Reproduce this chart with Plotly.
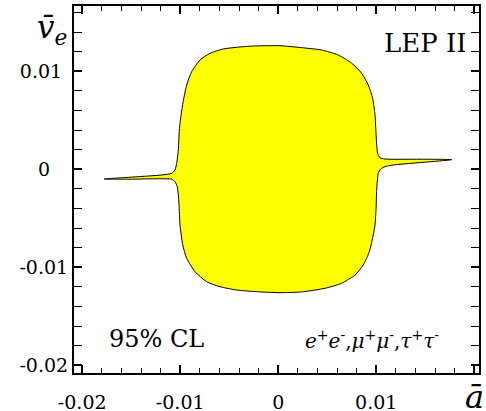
import plotly.graph_objects as go

# Contour outline (a-bar, v_e-bar), traced clockwise from the left spike tip
outline_a = [
    -0.01775, -0.01530, -0.01189, -0.01087, -0.01053, -0.01036, -0.01019,
    -0.01009, -0.00991, -0.00970, -0.00934, -0.00883, -0.00798, -0.00696,
    -0.00560, -0.00423, -0.00254, 0.00018, 0.00240, 0.00444, 0.00613,
    0.00750, 0.00852, 0.00919, 0.00964, 0.00988, 0.00998, 0.01005, 0.01015,
    0.01039, 0.01090, 0.01447, 0.01770,
    0.01174, 0.01090, 0.01046, 0.01021, 0.01011, 0.01005,
    0.00998, 0.00988, 0.00970, 0.00930, 0.00868, 0.00784, 0.00648, 0.00478,
    0.00240, 0.00018, -0.00219, -0.00423, -0.00594, -0.00730, -0.00849,
    -0.00934, -0.00974, -0.01002, -0.01012, -0.01019, -0.01030, -0.01053,
    -0.01087, -0.01512, -0.01775,
]
outline_v = [
    -0.00099, -0.00082, -0.00058, -0.00041, -0.00007, 0.00061, 0.00197,
    0.00401, 0.00554, 0.00690, 0.00860, 0.00996, 0.01115, 0.01184,
    0.01228, 0.01245, 0.01258, 0.01261, 0.01241, 0.01217, 0.01166,
    0.01082, 0.00980, 0.00860, 0.00724, 0.00554, 0.00370, 0.00248, 0.00163,
    0.00118, 0.00105, 0.00103, 0.00098,
    0.00044, 0.00027, 0.00003, -0.00041, -0.00127, -0.00211,
    -0.00415, -0.00568, -0.00670, -0.00841, -0.00977, -0.01079, -0.01163, -0.01214,
    -0.01251, -0.01259, -0.01249, -0.01232, -0.01198, -0.01147, -0.01045,
    -0.00908, -0.00772, -0.00568, -0.00364, -0.00262, -0.00178, -0.00127,
    -0.00102, -0.00101, -0.00099,
]

x_tickvals = [-0.02, -0.01, 0.0, 0.01, 0.02]
x_ticktext = ["-0.02", "-0.01", "0", "0.01", ""]
y_tickvals = [-0.02, -0.01, 0.0, 0.01]
y_ticktext = ["-0.02", "-0.01", "0\u00a0\u00a0\u00a0", "0.01\u00a0"]
minor_tickvals = [round(-0.02 + 0.002 * i, 4) for i in range(21) if i % 5 != 0]

X_RANGE = [-0.020837, 0.02049]
Y_RANGE = [-0.020786, 0.016663]

FONT = "DejaVu Serif"

# layout geometry: frame bottom at pixel 373, tick-label axis a little below
H, T, B = 411, 6, 20
plot_h = H - T - B
y_dom0 = (H - B - 373) / plot_h
x_lab_pos = (H - B - 389) / plot_h

fig = go.Figure()
fig.add_trace(go.Scatter(
    x=outline_a, y=outline_v, mode="lines", fill="toself",
    fillcolor="#ffff00", line=dict(color="black", width=1, shape="spline", smoothing=0.6),
    hoverinfo="skip", showlegend=False,
))
# empty trace so the label-carrying axis is drawn
fig.add_trace(go.Scatter(x=[], y=[], xaxis="x2", yaxis="y", mode="lines",
                         hoverinfo="skip", showlegend=False))

axis_common = dict(
    showgrid=False, zeroline=False, showline=True, linecolor="black",
    linewidth=2, mirror="allticks", ticks="inside", ticklen=8, tickwidth=2,
    tickcolor="#000000", tickmode="array", automargin=False,
    tickfont=dict(family=FONT, size=19, color="black"),
    minor=dict(tickmode="array", tickvals=minor_tickvals, ticks="inside",
               ticklen=5, tickwidth=1, tickcolor="#000000", showgrid=False),
)

fig.update_layout(
    width=486, height=H,
    margin=dict(l=74, r=7, t=T, b=B, autoexpand=False),
    paper_bgcolor="white", plot_bgcolor="white",
    xaxis=dict(range=X_RANGE, tickvals=x_tickvals, ticktext=[""] * len(x_tickvals),
               **axis_common),
    xaxis2=dict(range=X_RANGE, tickvals=x_tickvals, ticktext=x_ticktext, tickmode="array",
                overlaying="x", anchor="free", position=x_lab_pos, side="bottom",
                showline=False, showgrid=False, zeroline=False, ticks="", automargin=False,
                tickfont=dict(family=FONT, size=19, color="black")),
    yaxis=dict(range=Y_RANGE, domain=[y_dom0, 1], tickvals=y_tickvals, ticktext=y_ticktext,
               **axis_common),
    font=dict(family=FONT, color="black"),
)

annots = [
    dict(text="LEP II", x=0.869, y=0.899, size=26),
    dict(text="95% CL", x=0.2025, y=0.0926, size=24),
    dict(text="<i>e</i><sup>+</sup><i>e</i><sup>-</sup>,<i>μ</i><sup>+</sup><i>μ</i><sup>-</sup>,<i>τ</i><sup>+</sup><i>τ</i><sup>-</sup>",
         x=0.736, y=0.09, size=20),
    dict(text="<i>v\u0304</i><sub><i>e</i></sub>", x=-0.055, y=0.935, size=31),
    dict(text="<i>a\u0304</i>", x=0.99, y=-0.066, size=32),
]
for a in annots:
    py_ = 373 - a["y"] * 367  # pixel row relative to frame
    fig.add_annotation(text=a["text"], x=a["x"], y=(H - B - py_) / plot_h,
                       xref="paper", yref="paper",
                       showarrow=False, xanchor="center", yanchor="middle",
                       font=dict(family=FONT, size=a["size"], color="black"))

fig.write_html("out.html")
